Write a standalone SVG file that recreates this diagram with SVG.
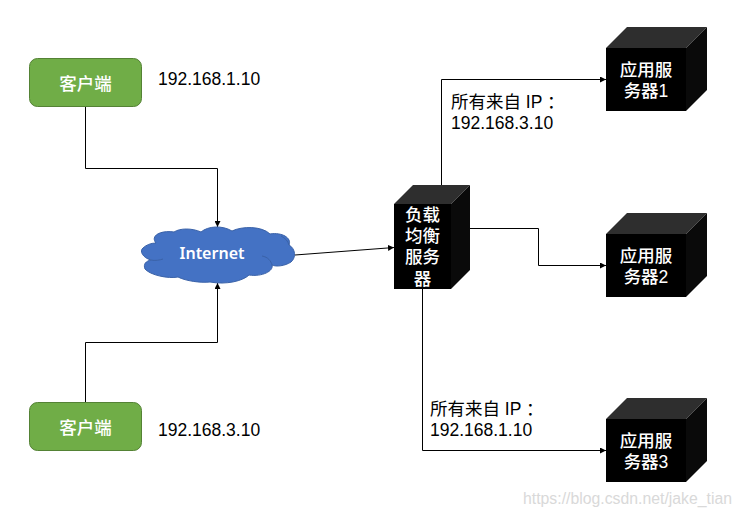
<svg xmlns="http://www.w3.org/2000/svg" width="740" height="517" viewBox="0 0 740 517">
  <style>
    .cjk { font-family: "Liberation Sans", "Noto Sans CJK SC", sans-serif; font-size: 17.500px; }
    .lbl { fill: #000; }
    .inv { fill: #fff; text-anchor: middle; font-weight: 500; }
    .client { fill: #70ad47; stroke: #548235; stroke-width: 1; }
    .front { fill: #000; }
    .top { fill: #2e2e2e; }
    .side { fill: #0a0a0a; }
    .wire { fill: none; stroke: #000; stroke-width: 1; marker-end: url(#tip); }
  </style>
  <defs>
    <marker id="tip" markerUnits="userSpaceOnUse" markerWidth="7" markerHeight="6" refX="6" refY="3" orient="auto">
      <path d="M0 0L6 3L0 6Z" fill="#000"/>
    </marker>
  </defs>
  <rect width="740" height="517" fill="#fff"/>

  <g id="connectors">
    <path class="wire" d="M85.500 107V168.500H217.500V227"/>
    <path class="wire" d="M85.500 402V342.500H217.500V283"/>
    <path class="wire" d="M295 255L394 247.500"/>
    <path class="wire" d="M441.500 185V79.500H606"/>
    <path class="wire" d="M470 228.500H538.500V265.500H606"/>
    <path class="wire" d="M422.500 289V450.500H606"/>
  </g>

  <g id="client-top">
    <rect class="client" x="29.500" y="58.500" width="112" height="48" rx="8"/>
    <text class="cjk inv" x="85.500" y="90">客户端</text>
  </g>
  <g id="client-bottom">
    <rect class="client" x="29.500" y="402.500" width="112" height="48" rx="8"/>
    <text class="cjk inv" x="85.500" y="434">客户端</text>
  </g>

  <g id="internet">
    <path d="M156 243C150 236 160 230 174 232C180 228 192 228 201 232C208 226 222 225 232 231C242 226 262 226 270 234C282 232 292 238 289 245C296 249 296 258 291 262C285 266 276 267 272 265C274 271 262 277 249 275C243 281 226 285 210 282C200 283 186 281 178 277C168 279 150 275 145 269C143 264 146 261 151 260C143 258 139 251 143 248C146 245 151 243 156 243Z" fill="#4472c4" stroke="#3a62a8" stroke-width="1"/>
    <path d="M151 260C155 261 160 260 163 259M262 256C268 257 271 261 272 265M281 236C285 238 288 241 289 245" fill="none" stroke="#3a62a8" stroke-width="1"/>
    <text x="212" y="259" text-anchor="middle" fill="#fff" font-family="Noto Sans, Liberation Sans, sans-serif" font-size="16" font-weight="600">Internet</text>
  </g>

  <g id="balancer">
    <rect class="front" x="394" y="204" width="57" height="85"/>
    <path class="top" d="M394 204L413 185H470L451 204Z"/>
    <path class="side" d="M451 204L470 185V270L451 289Z"/>
    <text class="cjk inv"><tspan x="422.500" y="221">负载</tspan><tspan x="422.500" y="242">均衡</tspan><tspan x="422.500" y="263">服务</tspan><tspan x="422.500" y="285">器</tspan></text>
  </g>

  <g id="app-server-1">
    <rect class="front" x="606" y="48" width="80" height="63"/>
    <path class="top" d="M606 48L627 27H707L686 48Z"/>
    <path class="side" d="M686 48L707 27V90L686 111Z"/>
    <text class="cjk inv"><tspan x="646" y="76">应用服</tspan><tspan x="646" y="97">务器1</tspan></text>
  </g>
  <g id="app-server-2">
    <rect class="front" x="606" y="234" width="80" height="63"/>
    <path class="top" d="M606 234L627 213H707L686 234Z"/>
    <path class="side" d="M686 234L707 213V276L686 297Z"/>
    <text class="cjk inv"><tspan x="646" y="262">应用服</tspan><tspan x="646" y="283">务器2</tspan></text>
  </g>
  <g id="app-server-3">
    <rect class="front" x="606" y="419" width="80" height="63"/>
    <path class="top" d="M606 419L627 398H707L686 419Z"/>
    <path class="side" d="M686 419L707 398V461L686 482Z"/>
    <text class="cjk inv"><tspan x="646" y="447">应用服</tspan><tspan x="646" y="468">务器3</tspan></text>
  </g>

  <g id="labels">
    <text class="cjk lbl" x="158" y="85">192.168.1.10</text>
    <text class="cjk lbl" x="158" y="436">192.168.3.10</text>
    <text class="cjk lbl"><tspan x="451" y="108">所有来自 IP ：</tspan><tspan x="451" y="129">192.168.3.10</tspan></text>
    <text class="cjk lbl"><tspan x="430" y="415">所有来自 IP ：</tspan><tspan x="430" y="436">192.168.1.10</tspan></text>
    <text x="523" y="504" fill="#d9d9d9" font-family="Liberation Sans, sans-serif" font-size="15.800">https://blog.csdn.net/jake_tian</text>
  </g>
</svg>
